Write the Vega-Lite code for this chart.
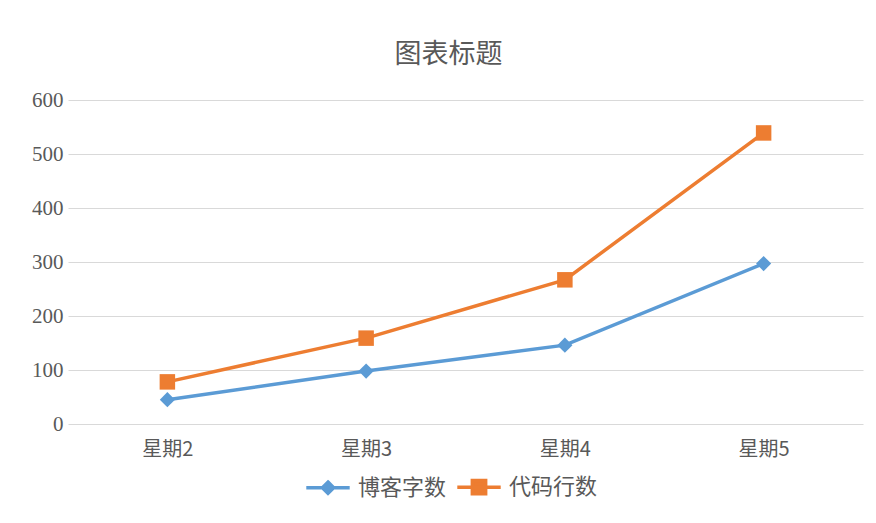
{
  "$schema": "https://vega.github.io/schema/vega-lite/v6.json",
  "width": 795,
  "height": 324,
  "autosize": {"type": "none"},
  "padding": {"left": 68, "top": 100, "right": 13, "bottom": 99},
  "background": "white",
  "title": {
    "text": "图表标题",
    "font": "Noto Sans CJK SC",
    "fontSize": 27,
    "fontWeight": "normal",
    "color": "#595959",
    "offset": 20,
    "dx": -17
  },
  "config": {"view": {"stroke": null}},
  "data": {
    "values": [
      {"day": "星期2", "series": "博客字数", "value": 45},
      {"day": "星期3", "series": "博客字数", "value": 98},
      {"day": "星期4", "series": "博客字数", "value": 146},
      {"day": "星期5", "series": "博客字数", "value": 297},
      {"day": "星期2", "series": "代码行数", "value": 78},
      {"day": "星期3", "series": "代码行数", "value": 159},
      {"day": "星期4", "series": "代码行数", "value": 267},
      {"day": "星期5", "series": "代码行数", "value": 539}
    ]
  },
  "encoding": {
    "x": {
      "field": "day",
      "type": "nominal",
      "sort": null,
      "axis": {
        "title": null,
        "labelAngle": 0,
        "domain": false,
        "ticks": false,
        "labelPadding": 15,
        "labelFontSize": 20,
        "labelFont": "Noto Sans CJK SC",
        "labelColor": "#595959"
      }
    },
    "y": {
      "field": "value",
      "type": "quantitative",
      "scale": {"domain": [0, 600], "nice": false},
      "axis": {
        "title": null,
        "values": [0, 100, 200, 300, 400, 500, 600],
        "domain": false,
        "ticks": false,
        "labelPadding": 5,
        "labelFontSize": 21,
        "labelFont": "Liberation Serif",
        "labelColor": "#595959",
        "gridColor": "#D9D9D9",
        "gridWidth": 1
      }
    },
    "color": {
      "field": "series",
      "type": "nominal",
      "sort": ["博客字数", "代码行数"],
      "scale": {"range": ["#5B9BD5", "#ED7D31"]},
      "legend": {
        "orient": "none",
        "legendX": 249,
        "legendY": 376,
        "direction": "horizontal",
        "title": null,
        "labelFont": "Noto Sans CJK SC",
        "labelFontSize": 22,
        "labelColor": "#595959",
        "symbolSize": 196,
        "symbolStrokeWidth": 3,
        "labelOffset": 19,
        "columnPadding": 3,
        "encode": {
          "symbols": {
            "update": {
              "shape": {"signal": "datum.value === '博客字数' ? 'M-3.1,0H3.1M0,-0.8L0.8,0L0,0.8L-0.8,0Z' : 'M-3.1,0H3.1M-0.95,-0.95H0.95V0.95H-0.95Z'"},
              "fill": {"scale": "color", "field": "value"},
              "stroke": {"scale": "color", "field": "value"},
              "strokeWidth": {"value": 3.5},
              "opacity": {"value": 1}
            }
          }
        }
      }
    }
  },
  "layer": [
    {"mark": {"type": "line", "strokeWidth": 3.5}},
    {
      "mark": {"type": "point", "filled": true, "opacity": 1},
      "encoding": {
        "shape": {"field": "series", "type": "nominal", "sort": ["博客字数", "代码行数"], "scale": {"range": ["diamond", "square"]}, "legend": null},
        "size": {"field": "series", "type": "nominal", "sort": ["博客字数", "代码行数"], "scale": {"range": [230, 240]}, "legend": null}
      }
    }
  ]
}
